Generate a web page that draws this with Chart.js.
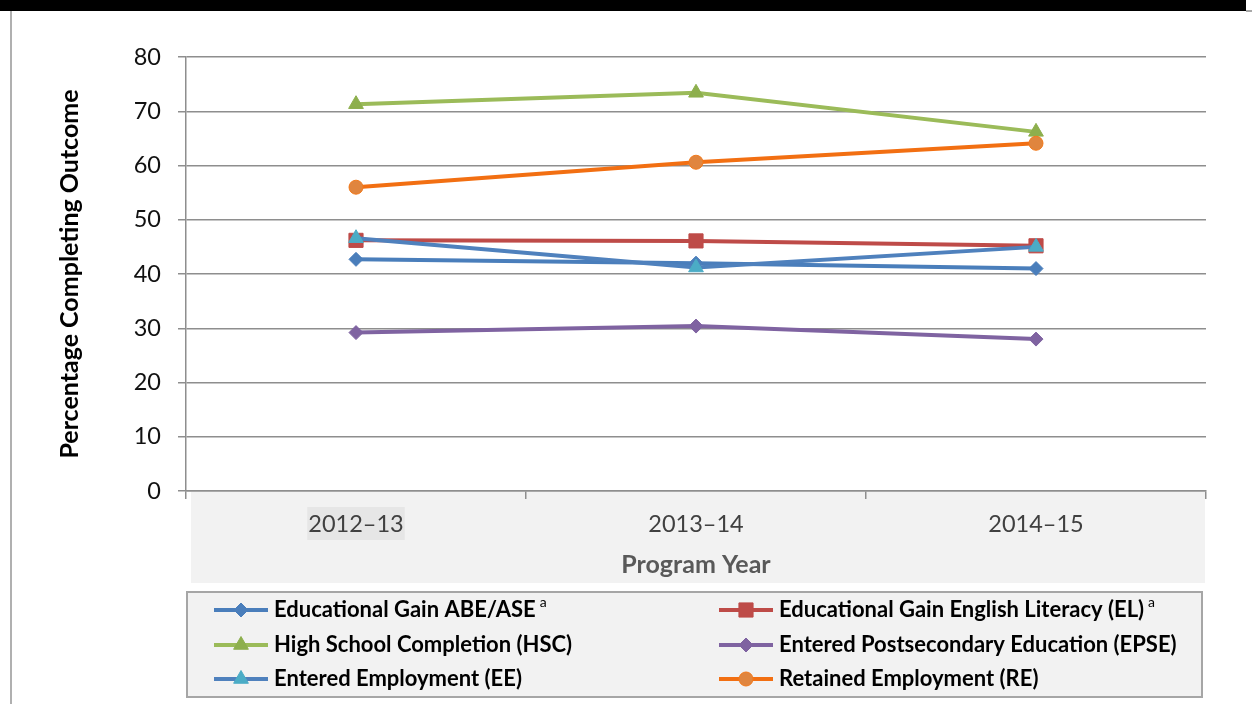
<!DOCTYPE html>
<html>
<head>
<meta charset="utf-8">
<script src="https://cdn.jsdelivr.net/npm/chart.js@4/dist/chart.umd.min.js"></script>
<style>
  html, body { margin: 0; padding: 0; background: #ffffff; }
  #wrap { position: relative; width: 1252px; height: 704px; overflow: hidden; }
  #c { position: absolute; left: 0; top: 0; }
  #topbar { position: absolute; left: 0; top: 0; width: 1246px; height: 11px; background: #000; z-index: 2; }
  #topline { position: absolute; left: 1246px; top: 10px; width: 6px; height: 2px; background: #a8a8a8; z-index: 2; }
  #leftline { position: absolute; left: 10px; top: 11px; width: 2px; height: 693px; background: #b0b0b0; z-index: 2; }
</style>
</head>
<body>
<div id="wrap">
  <canvas id="c" width="1252" height="704"></canvas>
  <div id="topbar"></div>
  <div id="topline"></div>
  <div id="leftline"></div>
</div>
<script>
// ---- Data ----
const categories = ['2012–13', '2013–14', '2014–15'];
const seriesNames = [
  'Educational Gain ABE/ASE',
  'Educational Gain English Literacy (EL)',
  'High School Completion (HSC)',
  'Entered Postsecondary Education (EPSE)',
  'Entered Employment (EE)',
  'Retained Employment (RE)'
];
const seriesNotes = ['a', 'a', '', '', '', ''];
const abeValues  = [42.7, 42.0, 41.0];
const elValues   = [46.2, 46.1, 45.2];
const hscValues  = [71.3, 73.4, 66.2];
const epseValues = [29.2, 30.4, 28.0];
const eeValues   = [46.6, 41.2, 45.0];
const reValues   = [56.0, 60.6, 64.1];
const yTicks = [0, 10, 20, 30, 40, 50, 60, 70, 80];
const xTitle = 'Program Year';
const yTitle = 'Percentage Completing Outcome';

const FONT = 'Lato, "Liberation Sans", sans-serif';

// ---- styles ----
const styles = [
  { line: '#4A7EBB', fill: '#4A7EBB', border: '#4A7EBB', point: 'rectRot', r: 7 },
  { line: '#BE4B48', fill: '#BE4B48', border: '#BE4B48', point: 'rect', r: 10 },
  { line: '#9BBB59', fill: '#8DAF4D', border: '#8DAF4D', point: 'triangle', r: 8.5 },
  { line: '#7F63A1', fill: '#7F63A1', border: '#7F63A1', point: 'rectRot', r: 7 },
  { line: '#4F81BD', fill: '#4BACC6', border: '#4BACC6', point: 'triangle', r: 8.5 },
  { line: '#F26F12', fill: '#E0853E', border: '#F27A1C', point: 'circle', r: 7 }
];
const values = [abeValues, elValues, hscValues, epseValues, eeValues, reValues];

const datasets = values.map((v, i) => ({
  label: seriesNames[i],
  data: v,
  borderColor: styles[i].line,
  backgroundColor: styles[i].fill,
  pointBackgroundColor: styles[i].fill,
  pointBorderColor: styles[i].border,
  pointBorderWidth: 1,
  pointStyle: styles[i].point,
  pointRadius: styles[i].r,
  pointHoverRadius: styles[i].r,
  borderWidth: 4,
  tension: 0,
  fill: false,
  order: values.length - 1 - i
}));

function drawMarker(ctx, style, x, y) {
  ctx.save();
  ctx.fillStyle = style.fill;
  ctx.strokeStyle = style.border;
  ctx.lineWidth = 1;
  if (Chart.helpers && Chart.helpers.drawPoint) {
    Chart.helpers.drawPoint(ctx, { pointStyle: style.point, radius: style.r, rotation: 0, borderWidth: 1 }, x, y);
  } else {
    ctx.beginPath();
    ctx.arc(x, y, style.r, 0, Math.PI * 2);
    ctx.fill(); ctx.stroke();
  }
  ctx.restore();
}

const decorPlugin = {
  id: 'decor',
  beforeDraw(chart) {
    const ctx = chart.ctx;
    const ca = chart.chartArea;
    const xs = chart.scales.x;
    ctx.save();
    // grey band behind x labels and title
    ctx.fillStyle = '#f2f2f2';
    ctx.fillRect(ca.left + 5, ca.bottom + 1, ca.right - ca.left - 6, xs.bottom - ca.bottom - 1);
    // highlight box behind first category label
    ctx.font = '23.5px ' + FONT;
    const w = ctx.measureText(categories[0]).width;
    const cx = xs.getPixelForValue(0);
    ctx.fillStyle = '#e6e6e6';
    ctx.fillRect(cx - w / 2 - 1, ca.bottom + 16, w + 2, 33);
    ctx.restore();
  },
  afterDraw(chart) {
    const ctx = chart.ctx;
    const ca = chart.chartArea;
    ctx.save();
    // legend box
    const bx = ca.left + 1, by = 592, bw = ca.right - ca.left - 5, bh = 105;
    ctx.fillStyle = '#f2f2f2';
    ctx.fillRect(bx, by, bw, bh);
    ctx.strokeStyle = '#a6a6a6';
    ctx.lineWidth = 2;
    ctx.strokeRect(bx, by, bw, bh);
    const colX = [214, 719];
    const rowY = [610, 645, 679];
    chart.data.datasets.forEach((ds, i) => {
      const col = i % 2, row = Math.floor(i / 2);
      const x = colX[col], y = rowY[row];
      ctx.strokeStyle = styles[i].line;
      ctx.lineWidth = 4;
      ctx.beginPath();
      ctx.moveTo(x, y);
      ctx.lineTo(x + 54, y);
      ctx.stroke();
      drawMarker(ctx, styles[i], x + 27, y);
      ctx.fillStyle = '#000000';
      ctx.font = 'bold 22px ' + FONT;
      ctx.textBaseline = 'middle';
      ctx.textAlign = 'left';
      ctx.fillText(ds.label, x + 60, y);
      const tw = ctx.measureText(ds.label).width;
      if (seriesNotes[i]) {
        ctx.font = '14px ' + FONT;
        ctx.fillText(seriesNotes[i], x + 60 + tw + 4, y - 8);
      }
    });
    ctx.restore();
  }
};

new Chart(document.getElementById('c'), {
  type: 'line',
  data: { labels: categories, datasets },
  plugins: [decorPlugin],
  options: {
    responsive: false,
    animation: false,
    events: [],
    layout: { padding: { left: 55, top: 57, right: 46, bottom: 121 } },
    plugins: { legend: { display: false }, tooltip: { enabled: false } },
    scales: {
      x: {
        type: 'category',
        offset: true,
        grid: { offset: true, drawOnChartArea: false, color: '#8e8e8e', lineWidth: 1.5, tickLength: 8 },
        border: { display: true, color: '#8e8e8e', width: 1.5 },
        ticks: { color: '#404040', font: { family: FONT, size: 23.5 }, padding: 11, maxRotation: 0 },
        title: { display: true, text: xTitle, color: '#595959', font: { family: FONT, size: 25, weight: 'bold' }, padding: { top: 3, bottom: 3 } },
        afterFit(scale) { scale.height = 92; }
      },
      y: {
        min: 0, max: 80,
        afterBuildTicks(scale) { scale.ticks = yTicks.map(v => ({ value: v })); },
        grid: { color: '#8e8e8e', lineWidth: 1.5, tickLength: 8 },
        border: { display: true, color: '#8e8e8e', width: 1.5 },
        ticks: { color: '#111111', font: { family: FONT, size: 23.5 }, padding: 17 },
        title: { display: true, text: yTitle, color: '#000000', font: { family: FONT, size: 25, weight: 'bold' }, padding: { top: 0, bottom: 0 } },
        afterFit(scale) { scale.width = 131; }
      }
    }
  }
});
</script>
</body>
</html>
